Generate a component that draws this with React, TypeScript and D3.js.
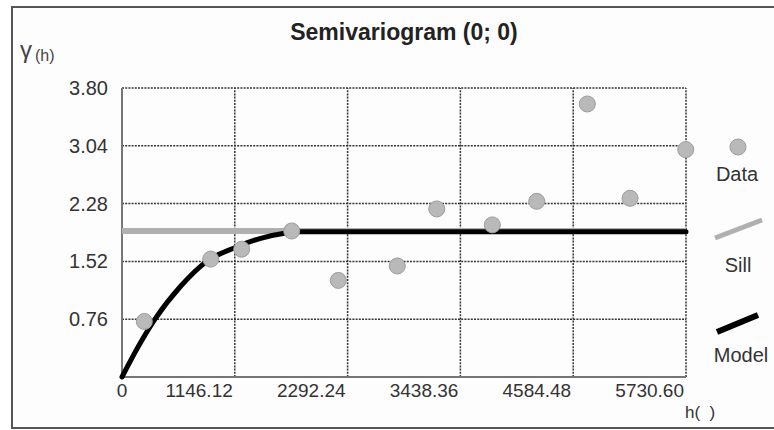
import React from 'react';
import * as d3 from 'd3';

// lag distances and semivariances
const lagH = [227, 901, 1216, 1724, 2198, 2797, 3198, 3763, 4214, 4728, 5162, 5728];
const gammaVals = [0.73, 1.55, 1.68, 1.92, 1.27, 1.46, 2.21, 2.0, 2.31, 3.59, 2.35, 2.99];

// fitted model, sampled from the drawn curve
const modelH = [0, 170, 335, 600, 860, 1146, 1400, 1650, 1800, 5730.6];
const modelG = [0, 0.41, 0.76, 1.2, 1.52, 1.7, 1.82, 1.89, 1.91, 1.91];

const sillH = [0, 5730.6];
const sillG = [1.92, 1.92];

const xTicks = [0, 1146.12, 2292.24, 3438.36, 4584.48, 5730.6];
const xTickLabels = ['0', '1146.12', '2292.24', '3438.36', '4584.48', '5730.60'];
const yTicks = [0.76, 1.52, 2.28, 3.04, 3.8];
const yTickLabels = ['0.76', '1.52', '2.28', '3.04', '3.80'];

const W = 774;
const H = 430;
const margin = { left: 122, right: 88, top: 88, bottom: 53 };
const font = '"Liberation Sans", Arial, sans-serif';

const App = () => {
  const x = d3.scaleLinear().domain([0, 5730.6]).range([margin.left, W - margin.right]);
  const y = d3.scaleLinear().domain([0, 3.8]).range([H - margin.bottom, margin.top]);

  const line = d3.line<[number, number]>()
    .x(d => x(d[0]))
    .y(d => y(d[1]));
  const modelPath = line.curve(d3.curveMonotoneX)(modelH.map((h, i) => [h, modelG[i]]));
  const sillPath = d3.line<[number, number]>().x(d => x(d[0])).y(d => y(d[1]))(
    sillH.map((h, i) => [h, sillG[i]])
  );

  const grid = { stroke: '#333', strokeWidth: 1.5, strokeDasharray: '2,1.2' };

  return (
    <svg width={W} height={H} style={{ position: 'absolute', left: 0, top: 0, background: '#fff' }}>
      {/* outer frame */}
      <rect x={12} y={7} width={W + 10} height={421} fill="#fdfdfd" stroke="#555" strokeWidth={2} />

      <text x={(x(0) + x(5730.6)) / 2} y={40} textAnchor="middle" fontFamily={font}
        fontWeight="bold" fontSize={23} fill="#222">Semivariogram (0; 0)</text>

      <text x={20} y={58} fontFamily={font} fill="#444">
        <tspan fontSize={24}>γ</tspan>
        <tspan fontSize={16} dx={3} dy={3}>(h)</tspan>
      </text>

      {/* grid */}
      {xTicks.slice(1).map(t => (
        <line key={'gx' + t} x1={x(t)} x2={x(t)} y1={y(0)} y2={y(3.8)} {...grid} />
      ))}
      {yTicks.map(t => (
        <line key={'gy' + t} x1={x(0)} x2={x(5730.6)} y1={y(t)} y2={y(t)} {...grid} />
      ))}

      {/* axes */}
      <line x1={x(0)} x2={x(0)} y1={y(0)} y2={y(3.8)} stroke="#777" strokeWidth={2} />
      <line x1={x(0)} x2={x(5730.6)} y1={y(0)} y2={y(0)} stroke="#777" strokeWidth={2} />

      {yTicks.map((t, i) => (
        <text key={'ly' + t} x={108} y={y(t) + 7} textAnchor="end" fontFamily={font}
          fontSize={20} fill="#333">{yTickLabels[i]}</text>
      ))}
      {xTicks.map((t, i) => (
        <text key={'lx' + t} x={i === 0 ? x(t) : x(t) - 2} y={397}
          textAnchor={i === 0 ? 'middle' : 'end'} fontFamily={font} fontSize={19} fill="#333">
          {xTickLabels[i]}
        </text>
      ))}
      <text x={685} y={418} fontFamily={font} fontSize={17} fill="#333">{'h(\u00a0\u00a0)'}</text>

      {/* sill and model */}
      <path d={sillPath || ''} fill="none" stroke="#b0b0b0" strokeWidth={6} />
      <path d={modelPath || ''} fill="none" stroke="#000" strokeWidth={5} strokeLinecap="round" />

      {/* data */}
      {lagH.map((h, i) => (
        <circle key={'p' + i} cx={x(h)} cy={y(gammaVals[i])} r={8}
          fill="#b9b9b9" stroke="#9c9c9c" strokeWidth={1} />
      ))}

      {/* legend */}
      <circle cx={738} cy={147} r={8} fill="#b9b9b9" stroke="#9c9c9c" strokeWidth={1} />
      <text x={737} y={181} textAnchor="middle" fontFamily={font} fontSize={20} fill="#333">Data</text>
      <line x1={715} y1={238} x2={762} y2={220} stroke="#b0b0b0" strokeWidth={5} />
      <text x={738} y={272} textAnchor="middle" fontFamily={font} fontSize={20} fill="#333">Sill</text>
      <line x1={717} y1={332} x2={758} y2={315} stroke="#000" strokeWidth={6} />
      <text x={741} y={362} textAnchor="middle" fontFamily={font} fontSize={20} fill="#333">Model</text>
    </svg>
  );
};

export default App;
